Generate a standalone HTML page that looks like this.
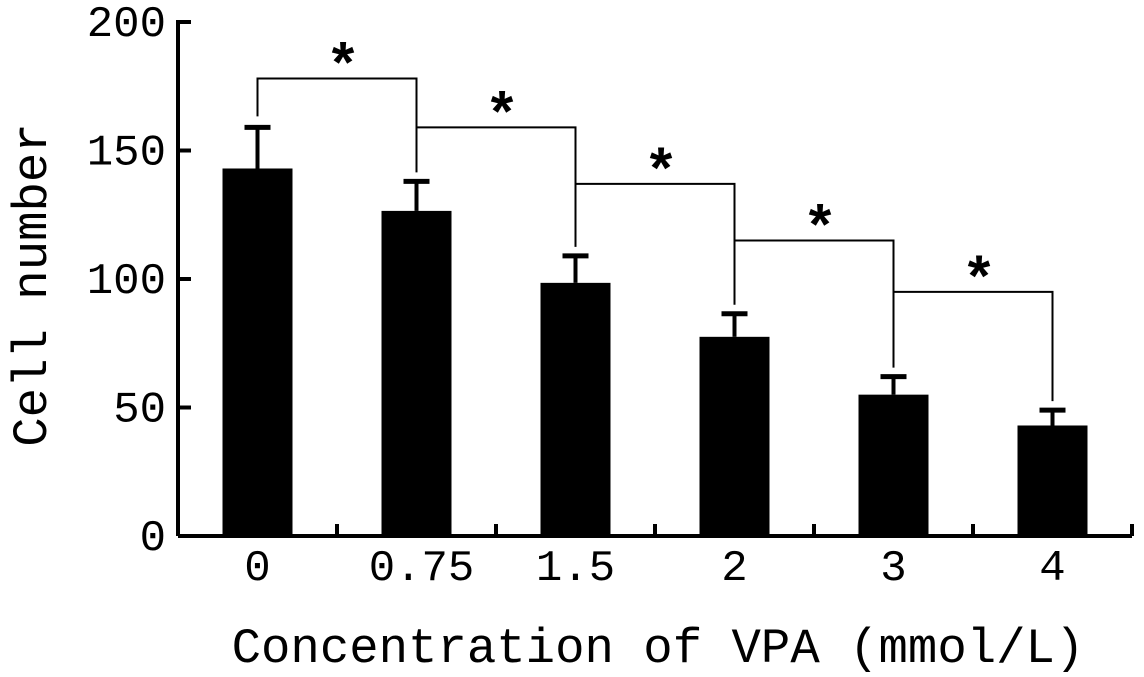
<!DOCTYPE html>
<html><head><meta charset="utf-8"><style>body{margin:0;background:#fff}svg{display:block}text{font-family:"Liberation Mono",monospace;fill:#000}</style></head>
<body>
<svg id="chart" width="1144" height="677" viewBox="0 0 1144 677"></svg>
<script>
const categories=["0","0.75","1.5","2","3","4"];
const values=[143,126.5,98.5,77.5,55,43];
const errors=[16,11.5,10.5,9,7,6];
const yTicks=[0,50,100,150,200];
const bracketLevels=[178,159,137,115,95];
const svg=document.getElementById('chart');
const NS='http://www.w3.org/2000/svg';
const x0=178,x1=1132,y0=536,y1=22;
const step=(x1-x0)/categories.length;
const xs=i=>x0+step*(i+0.5);
const ys=v=>y0-(v/200)*(y0-y1);
function el(t,a,p){const e=document.createElementNS(NS,t);for(const k in a)e.setAttribute(k,a[k]);(p||svg).appendChild(e);return e;}
let g=el('g',{});


el('line',{x1:x0,y1:y0,x2:x0,y2:y1-2,stroke:'#000','stroke-width':4},g);
yTicks.forEach(v=>{el('line',{x1:x0,y1:ys(v),x2:x0+13,y2:ys(v),stroke:'#000','stroke-width':4},g);
const t=el('text',{x:x0-12,y:ys(v)+14,'text-anchor':'end','font-size':44},g);t.textContent=v;

});
g=el('g',{});


el('line',{x1:x0,y1:y0,x2:x1,y2:y0,stroke:'#000','stroke-width':4},g);
for(let i=1;i<=categories.length;i++)el('line',{x1:x0+step*i,y1:y0,x2:x0+step*i,y2:y0-12,stroke:'#000','stroke-width':4},g);
categories.forEach((c,i)=>{const t=el('text',{x:xs(i)+(i==1?5:0),y:580,'text-anchor':'middle','font-size':44},g);t.textContent=c;

});
values.forEach((v,i)=>{const cx=xs(i);
const b=el('rect',{x:cx-35,y:ys(v),width:70,height:y0-ys(v),fill:'#000'});


const e=el('g',{});


const top=ys(v+errors[i]);
el('line',{x1:cx,y1:ys(v),x2:cx,y2:top,stroke:'#000','stroke-width':4},e);
el('line',{x1:cx-13,y1:top,x2:cx+13,y2:top,stroke:'#000','stroke-width':5},e);});
bracketLevels.forEach((lv,i)=>{const a=xs(i),b=xs(i+1),y=ys(lv);
const gb=el('g',{});


el('polyline',{points:`${a},${ys(values[i]+errors[i])-11} ${a},${y} ${b},${y} ${b},${ys(values[i+1]+errors[i+1])-9}`,fill:'none',stroke:'#000','stroke-width':2},gb);
const s=el('text',{x:(a+b)/2+6,y:y+6,'text-anchor':'middle','font-size':58,'font-weight':'bold'},gb);s.textContent='*';});
let t=el('text',{x:658,y:662,'text-anchor':'middle','font-size':49});t.textContent='Concentration of VPA (mmol/L)';


t=el('text',{x:0,y:0,'text-anchor':'middle','font-size':49,transform:'translate(46,285) rotate(-90)'});t.textContent='Cell number';


</script>
</body></html>
